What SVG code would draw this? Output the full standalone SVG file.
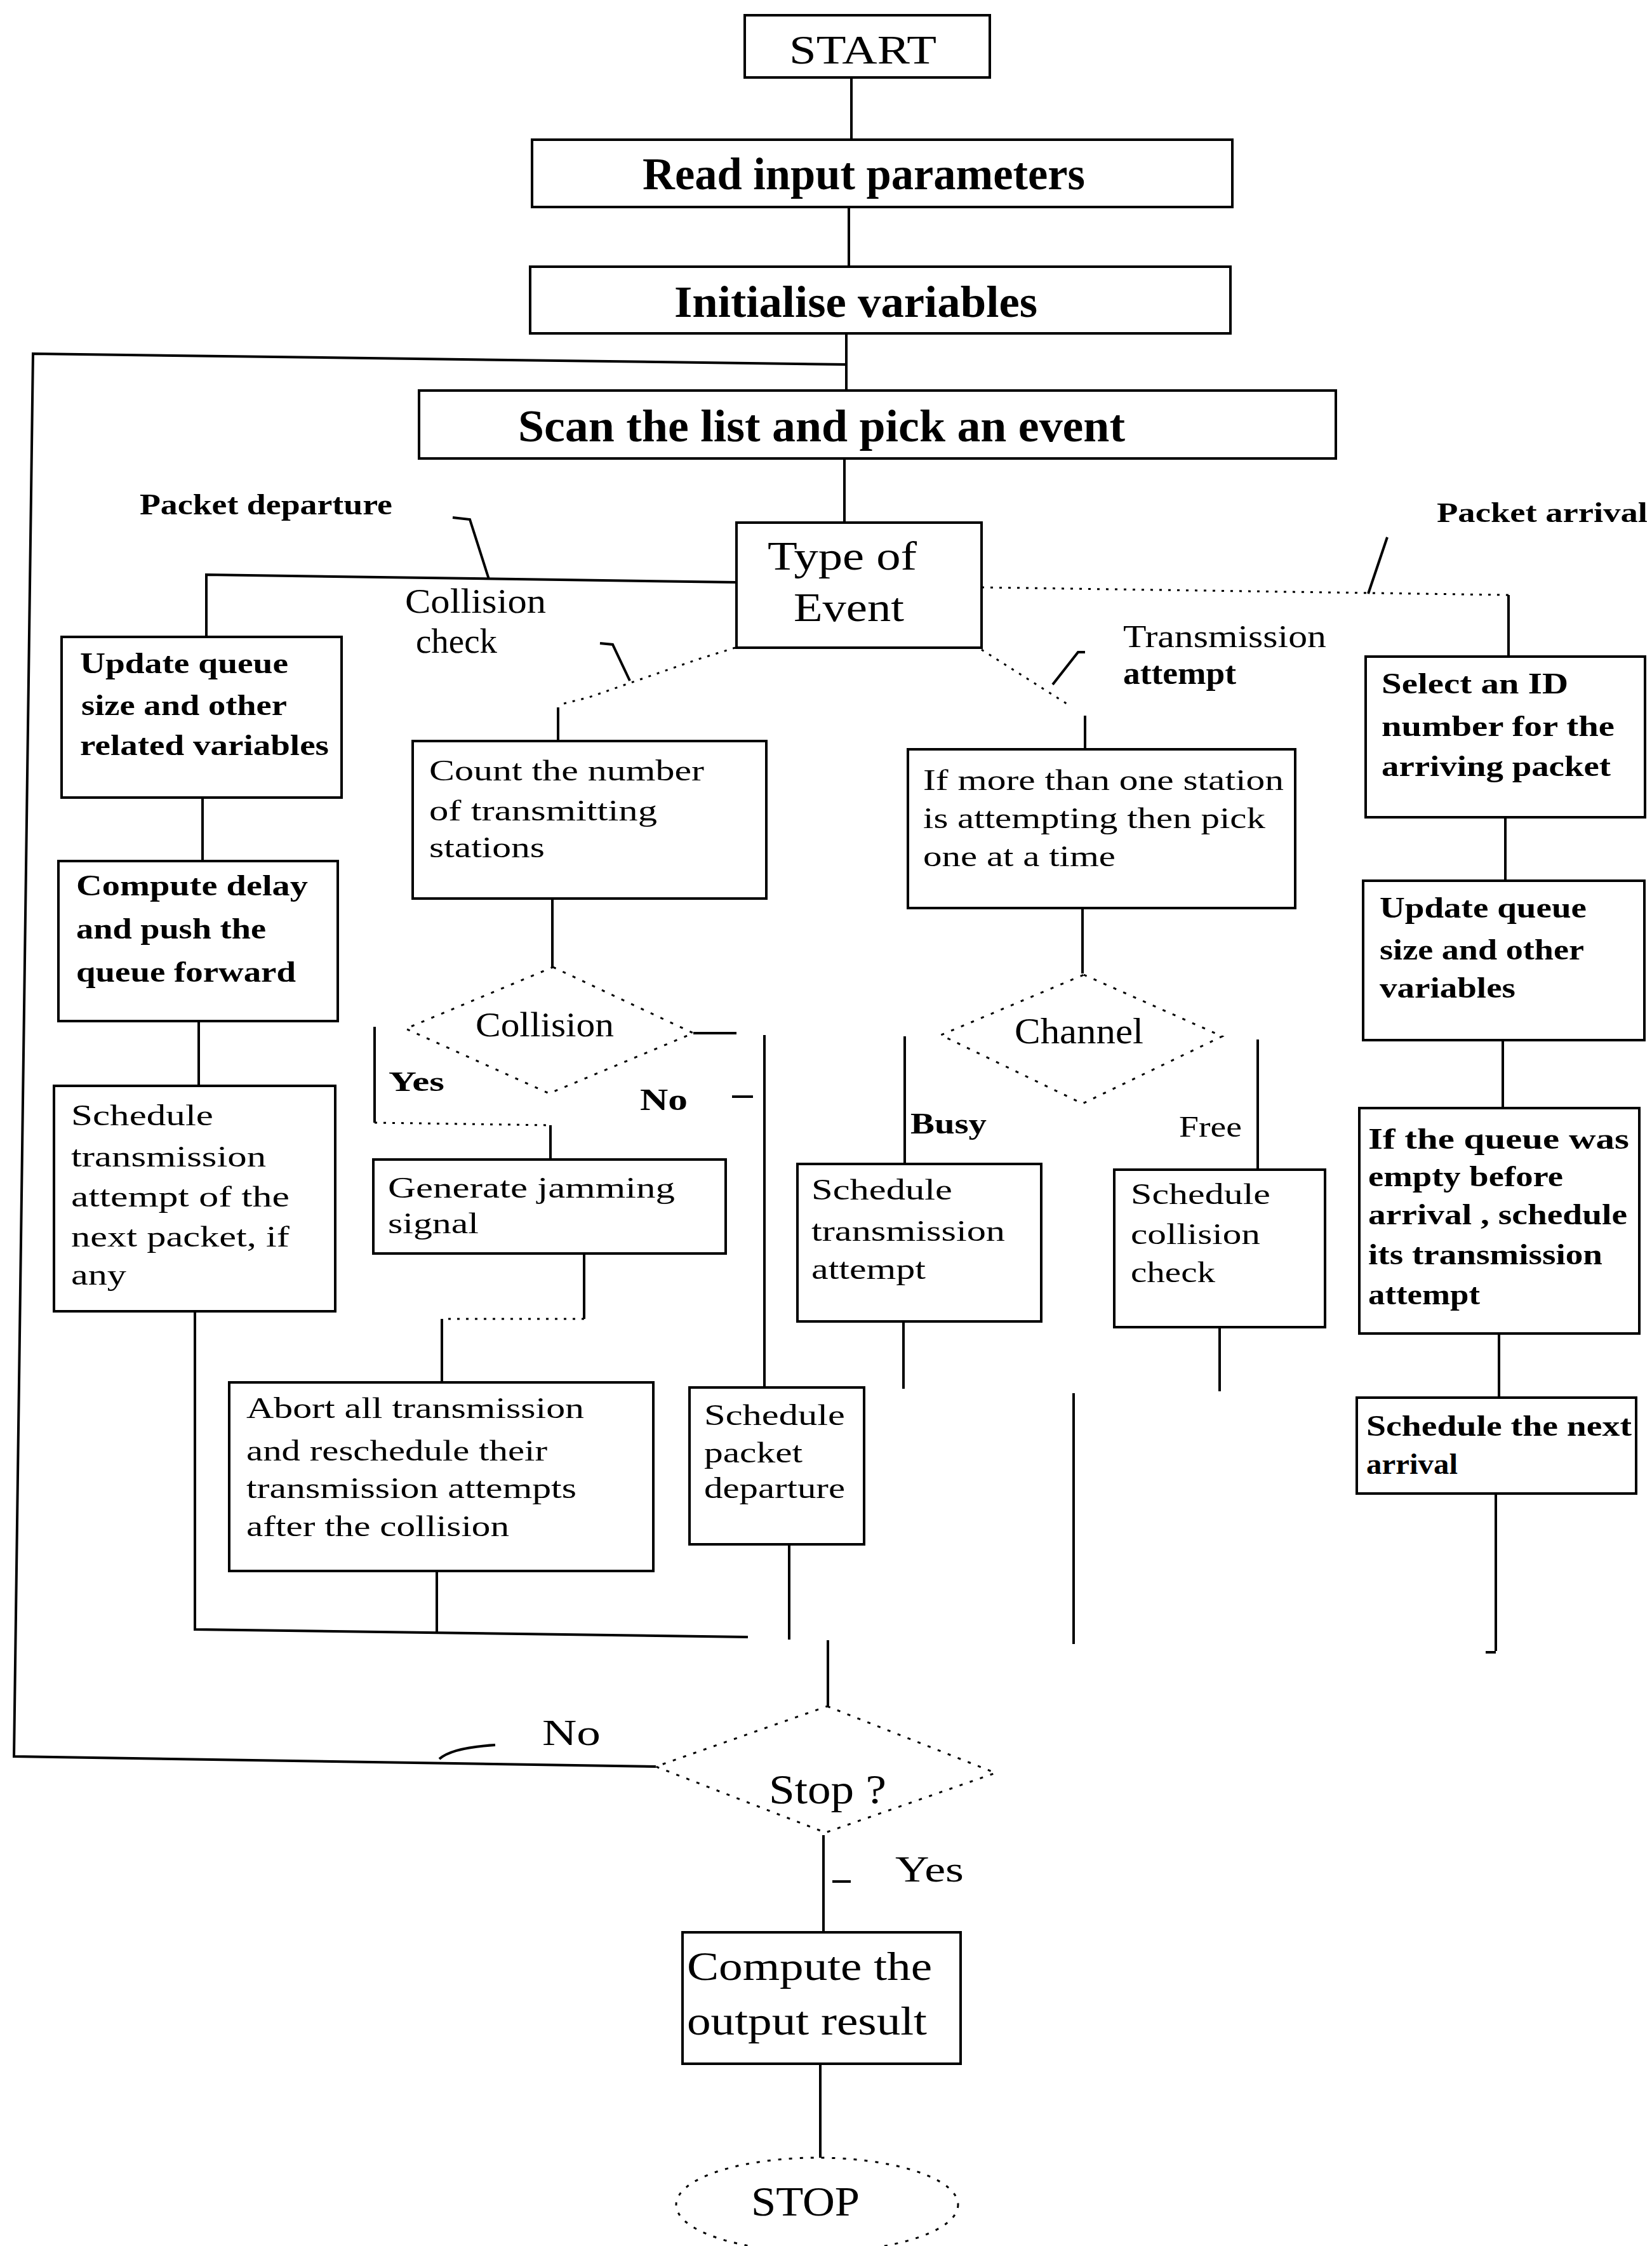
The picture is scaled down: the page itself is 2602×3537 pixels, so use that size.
<svg xmlns="http://www.w3.org/2000/svg" width="2602" height="3537" viewBox="0 0 2602 3537">
  <style>
    .box { fill: #fff; stroke: #000; stroke-width: 4; }
    .ln { fill: none; stroke: #000; stroke-width: 4; }
    .dot { fill: none; stroke: #000; stroke-width: 3; stroke-dasharray: 4 10; }
    .dia { fill: none; stroke: #000; stroke-width: 3; stroke-dasharray: 5 12; }
    text { font-family: "Liberation Serif", "Times New Roman", serif; fill: #000; }
    .b { font-weight: bold; }
    .m { font-size: 46px; }
    .big { font-size: 70px; }
    .lg { font-size: 64px; }
  </style>
  <rect x="0" y="0" width="2602" height="3537" fill="#fff"/>

  <!-- flow lines -->
  <g id="connectors">
    <path class="ln" d="M1341,122 V220"/>
    <path class="ln" d="M1337,326 V420"/>
    <path class="ln" d="M1333,525 V615"/>
    <!-- loop back from "Stop ?" (No) to the event scan -->
    <path class="ln" d="M1033,2782 L22,2766 L52,557 L1333,574"/>
    <path class="ln" d="M780,2748 Q712,2752 692,2770"/>
    <path class="ln" d="M1330,722 V824"/>
    <!-- packet departure branch -->
    <path class="ln" d="M1160,917 L325,905 V1003"/>
    <path class="ln" d="M713,815 L740,818 L770,912"/>
    <!-- packet arrival branch -->
    <path class="dot" d="M1546,925 L2376,937"/>
    <path class="ln" d="M2376,937 V1034"/>
    <path class="ln" d="M2185,846 L2155,935"/>
    <!-- collision check branch -->
    <path class="dot" d="M1158,1020 L1100,1038 L928,1098 L880,1110"/>
    <path class="ln" d="M879,1114 V1167"/>
    <path class="ln" d="M945,1013 L965,1015 L992,1072"/>
    <!-- transmission attempt branch -->
    <path class="dot" d="M1546,1023 L1683,1110"/>
    <path class="ln" d="M1709,1127 V1180"/>
    <path class="ln" d="M1709,1027 L1698,1027 L1658,1078"/>
    <!-- departure column -->
    <path class="ln" d="M319,1256 V1356"/>
    <path class="ln" d="M313,1608 V1710"/>
    <path class="ln" d="M307,2065 V2566 L1178,2578"/>
    <!-- collision column -->
    <path class="ln" d="M870,1415 V1523"/>
    <path class="ln" d="M590,1617 V1768"/>
    <path class="dot" d="M590,1768 L867,1772"/>
    <path class="ln" d="M867,1772 V1826"/>
    <path class="ln" d="M1092,1627 H1160"/>
    <path class="ln" d="M1204,1630 V2185"/>
    <path class="ln" d="M1153,1727 H1186"/>
    <path class="ln" d="M920,1974 V2077"/>
    <path class="dot" d="M920,2077 H696"/>
    <path class="ln" d="M696,2077 V2177"/>
    <path class="ln" d="M688,2474 V2573"/>
    <path class="ln" d="M1243,2432 V2582"/>
    <path class="ln" d="M1304,2583 V2687"/>
    <!-- transmission column -->
    <path class="ln" d="M1705,1430 V1533"/>
    <path class="ln" d="M1425,1632 V1833"/>
    <path class="ln" d="M1981,1637 V1842"/>
    <path class="ln" d="M1423,2081 V2187"/>
    <path class="ln" d="M1691,2194 V2589"/>
    <path class="ln" d="M1921,2090 V2191"/>
    <!-- arrival column -->
    <path class="ln" d="M2371,1287 V1387"/>
    <path class="ln" d="M2367,1638 V1745"/>
    <path class="ln" d="M2361,2100 V2201"/>
    <path class="ln" d="M2356,2352 V2600 M2340,2602 H2356"/>
    <!-- termination -->
    <path class="ln" d="M1297,2890 V3043"/>
    <path class="ln" d="M1311,2963 H1340"/>
    <path class="ln" d="M1292,3250 V3398"/>

    <!-- branch labels -->
    <text class="b" x="220" y="810" font-size="46" textLength="398" lengthAdjust="spacingAndGlyphs">Packet departure</text>
    <text class="b" x="2263" y="822" font-size="44" textLength="332" lengthAdjust="spacingAndGlyphs">Packet arrival</text>
    <text x="638" y="965" font-size="54" textLength="222" lengthAdjust="spacingAndGlyphs">Collision</text>
    <text x="655" y="1028" font-size="54" textLength="128" lengthAdjust="spacingAndGlyphs">check</text>
    <text x="1769" y="1019" font-size="50" textLength="320" lengthAdjust="spacingAndGlyphs">Transmission</text>
    <text class="b" x="1769" y="1077" font-size="50" textLength="178" lengthAdjust="spacingAndGlyphs">attempt</text>
    <text class="b" x="612" y="1718" font-size="44" textLength="88" lengthAdjust="spacingAndGlyphs">Yes</text>
    <text class="b" x="1008" y="1748" font-size="48" textLength="75" lengthAdjust="spacingAndGlyphs">No</text>
    <text class="b" x="1434" y="1785" font-size="46" textLength="120" lengthAdjust="spacingAndGlyphs">Busy</text>
    <text x="1857" y="1790" font-size="46" textLength="99" lengthAdjust="spacingAndGlyphs">Free</text>
    <text x="854" y="2748" font-size="58" textLength="92" lengthAdjust="spacingAndGlyphs">No</text>
    <text x="1410" y="2963" font-size="56" textLength="108" lengthAdjust="spacingAndGlyphs">Yes</text>
  </g>

  <g id="start">
    <rect class="box" x="1173" y="24" width="386" height="98"/>
    <text x="1243" y="100" font-size="64" textLength="232" lengthAdjust="spacingAndGlyphs">START</text>
  </g>
  <g id="read-input">
    <rect class="box" x="838" y="220" width="1103" height="106"/>
    <text class="b" x="1012" y="298" font-size="72" textLength="697" lengthAdjust="spacingAndGlyphs">Read input parameters</text>
  </g>
  <g id="initialise">
    <rect class="box" x="835" y="420" width="1103" height="105"/>
    <text class="b" x="1062" y="499" font-size="70" textLength="572" lengthAdjust="spacingAndGlyphs">Initialise variables</text>
  </g>
  <g id="scan">
    <rect class="box" x="660" y="615" width="1444" height="107"/>
    <text class="b" x="816" y="695" font-size="72" textLength="956" lengthAdjust="spacingAndGlyphs">Scan the list and pick an event</text>
  </g>
  <g id="event-type">
    <rect class="box" x="1160" y="823" width="386" height="197"/>
    <text x="1209" y="897" font-size="64" textLength="235" lengthAdjust="spacingAndGlyphs">Type of</text>
    <text x="1250" y="978" font-size="64" textLength="174" lengthAdjust="spacingAndGlyphs">Event</text>
  </g>

  <!-- packet departure -->
  <g id="update-queue-dep">
    <rect class="box" x="97" y="1003" width="441" height="253"/>
    <text class="b m" x="126" y="1060" textLength="328" lengthAdjust="spacingAndGlyphs">Update queue</text>
    <text class="b m" x="128" y="1126" textLength="324" lengthAdjust="spacingAndGlyphs">size and other</text>
    <text class="b m" x="126" y="1189" textLength="392" lengthAdjust="spacingAndGlyphs">related variables</text>
  </g>
  <g id="compute-delay">
    <rect class="box" x="92" y="1356" width="440" height="252"/>
    <text class="b m" x="120" y="1410" textLength="365" lengthAdjust="spacingAndGlyphs">Compute delay</text>
    <text class="b m" x="120" y="1478" textLength="299" lengthAdjust="spacingAndGlyphs">and push the</text>
    <text class="b m" x="120" y="1546" textLength="346" lengthAdjust="spacingAndGlyphs">queue forward</text>
  </g>
  <g id="schedule-next-tx">
    <rect class="box" x="85" y="1710" width="443" height="355"/>
    <text class="m" x="112" y="1772" textLength="224" lengthAdjust="spacingAndGlyphs">Schedule</text>
    <text class="m" x="112" y="1837" textLength="307" lengthAdjust="spacingAndGlyphs">transmission</text>
    <text class="m" x="112" y="1900" textLength="344" lengthAdjust="spacingAndGlyphs">attempt of  the</text>
    <text class="m" x="112" y="1963" textLength="344" lengthAdjust="spacingAndGlyphs">next packet, if</text>
    <text class="m" x="112" y="2023" textLength="87" lengthAdjust="spacingAndGlyphs">any</text>
  </g>

  <!-- collision check -->
  <g id="count-stations">
    <rect class="box" x="650" y="1167" width="557" height="248"/>
    <text class="m" x="676" y="1229" textLength="433" lengthAdjust="spacingAndGlyphs">Count the number</text>
    <text class="m" x="676" y="1292" textLength="359" lengthAdjust="spacingAndGlyphs">of transmitting</text>
    <text class="m" x="676" y="1350" textLength="182" lengthAdjust="spacingAndGlyphs">stations</text>
  </g>
  <g id="collision">
    <polygon class="dia" points="871,1523 1092,1627 865,1722 639,1620"/>
    <text x="749" y="1632" font-size="54" textLength="218" lengthAdjust="spacingAndGlyphs">Collision</text>
  </g>
  <g id="jamming">
    <rect class="box" x="588" y="1826" width="555" height="148"/>
    <text class="m" x="611" y="1886" textLength="452" lengthAdjust="spacingAndGlyphs">Generate jamming</text>
    <text class="m" x="611" y="1942" textLength="143" lengthAdjust="spacingAndGlyphs">signal</text>
  </g>
  <g id="abort">
    <rect class="box" x="361" y="2177" width="668" height="297"/>
    <text class="m" x="388" y="2233" textLength="532" lengthAdjust="spacingAndGlyphs">Abort all transmission</text>
    <text class="m" x="388" y="2300" textLength="474" lengthAdjust="spacingAndGlyphs">and reschedule their</text>
    <text class="m" x="388" y="2359" textLength="520" lengthAdjust="spacingAndGlyphs">transmission attempts</text>
    <text class="m" x="388" y="2419" textLength="414" lengthAdjust="spacingAndGlyphs">after the collision</text>
  </g>
  <g id="schedule-departure">
    <rect class="box" x="1086" y="2185" width="275" height="247"/>
    <text class="m" x="1109" y="2244" textLength="222" lengthAdjust="spacingAndGlyphs">Schedule</text>
    <text class="m" x="1109" y="2303" textLength="155" lengthAdjust="spacingAndGlyphs">packet</text>
    <text class="m" x="1109" y="2359" textLength="222" lengthAdjust="spacingAndGlyphs">departure</text>
  </g>

  <!-- transmission attempt -->
  <g id="pick-station">
    <rect class="box" x="1430" y="1180" width="610" height="250"/>
    <text class="m" x="1454" y="1244" textLength="568" lengthAdjust="spacingAndGlyphs">If more than one station</text>
    <text class="m" x="1454" y="1304" textLength="539" lengthAdjust="spacingAndGlyphs">is attempting then pick</text>
    <text class="m" x="1454" y="1364" textLength="303" lengthAdjust="spacingAndGlyphs">one at a time</text>
  </g>
  <g id="channel">
    <polygon class="dia" points="1707,1535 1925,1632 1705,1738 1482,1630"/>
    <text x="1598" y="1643" font-size="56" textLength="203" lengthAdjust="spacingAndGlyphs">Channel</text>
  </g>
  <g id="schedule-tx">
    <rect class="box" x="1256" y="1833" width="384" height="248"/>
    <text class="m" x="1278" y="1889" textLength="222" lengthAdjust="spacingAndGlyphs">Schedule</text>
    <text class="m" x="1278" y="1954" textLength="305" lengthAdjust="spacingAndGlyphs">transmission</text>
    <text class="m" x="1278" y="2014" textLength="180" lengthAdjust="spacingAndGlyphs">attempt</text>
  </g>
  <g id="schedule-collision">
    <rect class="box" x="1755" y="1842" width="332" height="248"/>
    <text class="m" x="1781" y="1896" textLength="220" lengthAdjust="spacingAndGlyphs">Schedule</text>
    <text class="m" x="1781" y="1959" textLength="204" lengthAdjust="spacingAndGlyphs">collision</text>
    <text class="m" x="1781" y="2019" textLength="133" lengthAdjust="spacingAndGlyphs">check</text>
  </g>

  <!-- packet arrival -->
  <g id="select-id">
    <rect class="box" x="2151" y="1034" width="440" height="253"/>
    <text class="b m" x="2176" y="1092" textLength="294" lengthAdjust="spacingAndGlyphs">Select an ID</text>
    <text class="b m" x="2176" y="1159" textLength="367" lengthAdjust="spacingAndGlyphs">number  for the</text>
    <text class="b m" x="2176" y="1222" textLength="361" lengthAdjust="spacingAndGlyphs">arriving packet</text>
  </g>
  <g id="update-queue-arr">
    <rect class="box" x="2147" y="1387" width="443" height="251"/>
    <text class="b m" x="2173" y="1445" textLength="326" lengthAdjust="spacingAndGlyphs">Update queue</text>
    <text class="b m" x="2173" y="1511" textLength="322" lengthAdjust="spacingAndGlyphs">size and other</text>
    <text class="b m" x="2173" y="1571" textLength="214" lengthAdjust="spacingAndGlyphs">variables</text>
  </g>
  <g id="queue-empty">
    <rect class="box" x="2141" y="1745" width="441" height="355"/>
    <text class="b m" x="2155" y="1809" textLength="411" lengthAdjust="spacingAndGlyphs">If  the queue was</text>
    <text class="b m" x="2155" y="1868" textLength="307" lengthAdjust="spacingAndGlyphs">empty before</text>
    <text class="b m" x="2155" y="1928" textLength="408" lengthAdjust="spacingAndGlyphs">arrival , schedule</text>
    <text class="b m" x="2155" y="1991" textLength="369" lengthAdjust="spacingAndGlyphs">its transmission</text>
    <text class="b m" x="2155" y="2054" textLength="176" lengthAdjust="spacingAndGlyphs">attempt</text>
  </g>
  <g id="next-arrival">
    <rect class="box" x="2137" y="2201" width="440" height="151"/>
    <text class="b m" x="2152" y="2261" textLength="418" lengthAdjust="spacingAndGlyphs">Schedule the next</text>
    <text class="b m" x="2152" y="2321" textLength="144" lengthAdjust="spacingAndGlyphs">arrival</text>
  </g>

  <!-- end of simulation -->
  <g id="stop-check">
    <polygon class="dia" points="1303,2687 1568,2792 1300,2886 1033,2782"/>
    <text x="1211" y="2840" font-size="66" textLength="185" lengthAdjust="spacingAndGlyphs">Stop ?</text>
  </g>
  <g id="output">
    <rect class="box" x="1075" y="3043" width="438" height="207"/>
    <text class="lg" x="1082" y="3118" textLength="386" lengthAdjust="spacingAndGlyphs">Compute the</text>
    <text class="lg" x="1082" y="3204" textLength="378" lengthAdjust="spacingAndGlyphs">output result</text>
  </g>
  <g id="stop">
    <ellipse class="dia" cx="1287" cy="3472" rx="222" ry="74"/>
    <text x="1183" y="3489" font-size="66" textLength="171" lengthAdjust="spacingAndGlyphs">STOP</text>
  </g>
</svg>
